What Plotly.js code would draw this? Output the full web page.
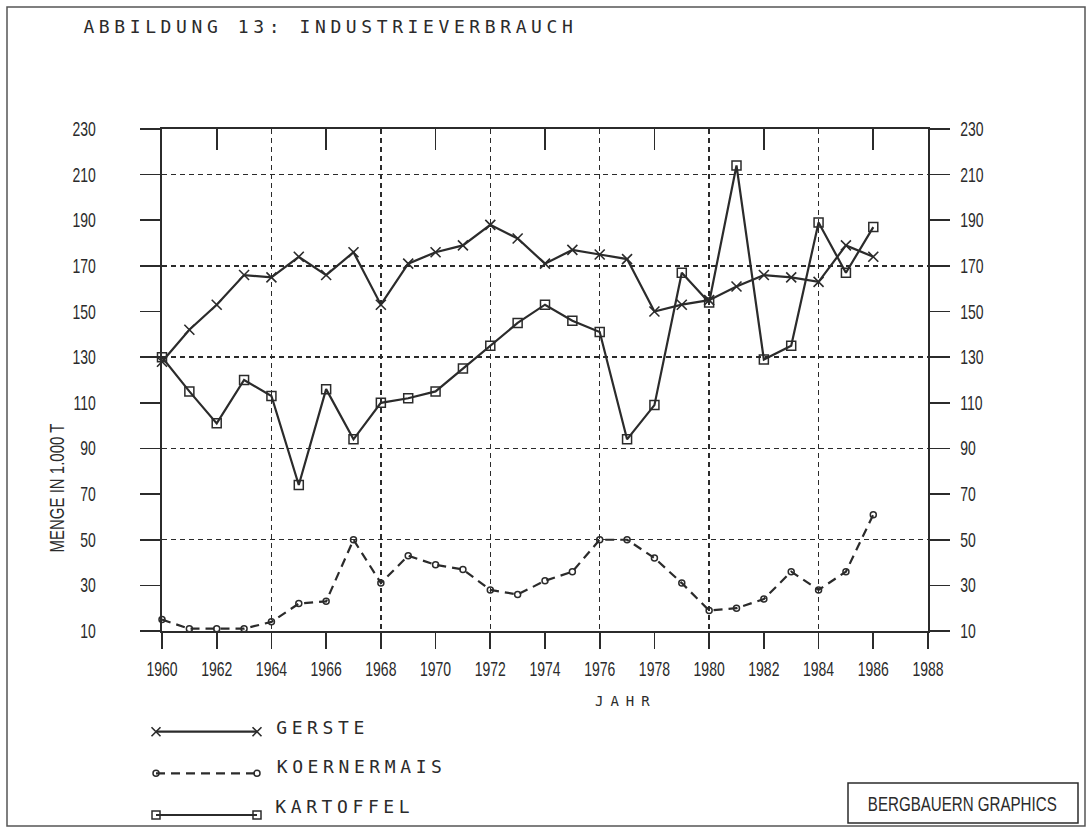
<!DOCTYPE html>
<html>
<head>
<meta charset="utf-8">
<script src="https://cdn.plot.ly/plotly-3.0.1.min.js"></script>
<style>
  html, body { margin: 0; padding: 0; background: #fff; }
  #chart { width: 1091px; height: 827px; }
</style>
</head>
<body>
<div id="chart"></div>
<script>
// ---- data ----
const years = [1960,1961,1962,1963,1964,1965,1966,1967,1968,1969,1970,1971,1972,1973,
               1974,1975,1976,1977,1978,1979,1980,1981,1982,1983,1984,1985,1986];
const gerste = [128,142,153,166,165,174,166,176,153,171,176,179,188,182,
                171,177,175,173,150,153,155,161,166,165,163,179,174];
const koernermais = [15,11,11,11,14,22,23,50,31,43,39,37,28,26,
                     32,36,50,50,42,31,19,20,24,36,28,36,61];
const kartoffel = [130,115,101,120,113,74,116,94,110,112,115,125,135,145,
                   153,146,141,94,109,167,154,214,129,135,189,167,187];
const seriesNames = ["GERSTE", "KOERNERMAIS", "KARTOFFEL"];
const xGridYears = [1964,1968,1972,1976,1980,1984];
const xTopTicks = [1962,1966,1970,1974,1978,1982,1986];
const yGridVals = [50,90,130,170,210];
const titleText = "ABBILDUNG 13: INDUSTRIEVERBRAUCH";
const xTitle = "JAHR";
const yTitle = "MENGE IN 1.000 T";
const creditText = "BERGBAUERN GRAPHICS";

// ---- styling ----
const INK = "#2b2b2b";
const NARROW = "Liberation Sans, Arial, sans-serif";
const PLOTTER = "DejaVu Sans Mono, Liberation Mono, monospace";
const W = 1091, H = 827;
const px = v => v / W;          // pixel x -> paper
const py = v => 1 - v / H;      // pixel y -> paper

const xDom = [px(162), px(928)];
const yDom = [py(631), py(129)];

const tickFont = { family: NARROW, size: 20, color: INK };
const GRID = { showgrid: true, gridcolor: INK, gridwidth: 1.5, griddash: "5px,4px" };

const traces = [
  { x: years, y: gerste, name: seriesNames[0], type: "scatter", mode: "lines+markers",
    xaxis: "x", yaxis: "y", cliponaxis: false,
    line: { color: INK, width: 2.2 },
    marker: { symbol: "x-thin-open", size: 10, color: INK, line: { color: INK, width: 1.6 } } },
  { x: years, y: koernermais, name: seriesNames[1], type: "scatter", mode: "lines+markers",
    xaxis: "x", yaxis: "y", cliponaxis: false,
    line: { color: INK, width: 2.2, dash: "9px,6px" },
    marker: { symbol: "circle-open", size: 6, color: INK, line: { color: INK, width: 1.5 } } },
  { x: years, y: kartoffel, name: seriesNames[2], type: "scatter", mode: "lines+markers",
    xaxis: "x", yaxis: "y", cliponaxis: false,
    line: { color: INK, width: 2.2 },
    marker: { symbol: "square-open", size: 9, color: INK, line: { color: INK, width: 1.5 } } },
  // empty traces so the overlay axes (top/right frame, grids) get drawn
  { x: [], y: [], xaxis: "x2", yaxis: "y", mode: "lines", hoverinfo: "skip" },
  { x: [], y: [], xaxis: "x3", yaxis: "y", mode: "lines", hoverinfo: "skip" },
  { x: [], y: [], xaxis: "x", yaxis: "y2", mode: "lines", hoverinfo: "skip" },
  { x: [], y: [], xaxis: "x", yaxis: "y3", mode: "lines", hoverinfo: "skip" },
  // legend samples (own small axes below the plot)
  { x: [0,1], y: [0,0], xaxis: "x4", yaxis: "y4", mode: "lines+markers", hoverinfo: "skip", cliponaxis: false,
    line: { color: INK, width: 2.2 },
    marker: { symbol: "x-thin-open", size: 9, color: INK, line: { color: INK, width: 1.6 } } },
  { x: [0,1], y: [1,1], xaxis: "x4", yaxis: "y4", mode: "lines+markers", hoverinfo: "skip", cliponaxis: false,
    line: { color: INK, width: 2.2, dash: "9px,6px" },
    marker: { symbol: "circle-open", size: 6, color: INK, line: { color: INK, width: 1.5 } } },
  { x: [0,1], y: [2,2], xaxis: "x4", yaxis: "y4", mode: "lines+markers", hoverinfo: "skip", cliponaxis: false,
    line: { color: INK, width: 2.2 },
    marker: { symbol: "square-open", size: 8, color: INK, line: { color: INK, width: 1.5 } } }
];

const layout = {
  width: W, height: H, autosize: false,
  margin: { l: 0, r: 0, t: 0, b: 0, pad: 0 },
  paper_bgcolor: "#fff", plot_bgcolor: "rgba(0,0,0,0)",
  showlegend: false,
  xaxis: { domain: xDom, anchor: "y", range: [1960, 1988], tick0: 1960, dtick: 2,
           ticks: "outside", ticklen: 16, tickwidth: 1.6, tickcolor: INK,
           showline: true, linewidth: 2.2, linecolor: INK, showgrid: false, zeroline: false,
           tickfont: tickFont, ticklabelstandoff: 3 },
  xaxis2: { overlaying: "x", anchor: "y", side: "top", range: [1960, 1988],
            tickmode: "array", tickvals: xTopTicks, ticks: "inside", ticklen: 21,
            tickwidth: 1.6, tickcolor: INK, showticklabels: false,
            showline: true, linewidth: 2.2, linecolor: INK, showgrid: false, zeroline: false },
  xaxis3: Object.assign({ overlaying: "x", anchor: "y", side: "bottom", range: [1960, 1988],
            tickmode: "array", tickvals: xGridYears, ticks: "", showticklabels: false,
            showline: false, zeroline: false }, GRID),
  yaxis: { domain: yDom, anchor: "x", range: [10, 230], tick0: 10, dtick: 20,
           ticks: "outside", ticklen: 20, tickwidth: 1.6, tickcolor: INK,
           showline: true, linewidth: 2.2, linecolor: INK, showgrid: false, zeroline: false,
           tickfont: tickFont, ticklabelstandoff: 40 },
  yaxis2: { overlaying: "y", anchor: "x", side: "right", range: [10, 230], tick0: 10, dtick: 20,
            ticks: "outside", ticklen: 20, tickwidth: 1.6, tickcolor: INK,
            showline: true, linewidth: 2.2, linecolor: INK, showgrid: false, zeroline: false,
            tickfont: tickFont, ticklabelstandoff: 6 },
  yaxis3: Object.assign({ overlaying: "y", anchor: "x", side: "left", range: [10, 230],
            tickmode: "array", tickvals: yGridVals, ticks: "", showticklabels: false,
            showline: false, zeroline: false }, GRID),
  xaxis4: { domain: [px(156), px(257)], anchor: "y4", range: [0, 1], visible: false, fixedrange: true },
  yaxis4: { domain: [py(825.4), py(710.9)], anchor: "x4", range: [2.25, -0.5], visible: false, fixedrange: true },
  shapes: [
    { type: "rect", xref: "paper", yref: "paper", x0: px(7), x1: px(1085), y0: py(826), y1: py(7),
      line: { color: "#555", width: 1.5 } },
    { type: "rect", xref: "paper", yref: "paper", x0: px(848), x1: px(1078), y0: py(823), y1: py(783),
      line: { color: INK, width: 1.5 } }
  ],
  annotations: [
    { text: titleText, xref: "paper", yref: "paper", x: px(330), y: py(26),
      xanchor: "center", yanchor: "middle", showarrow: false,
      font: { family: PLOTTER, size: 18, color: INK } },
    { text: xTitle, xref: "paper", yref: "paper", x: px(626), y: py(701),
      xanchor: "center", yanchor: "middle", showarrow: false,
      font: { family: PLOTTER, size: 14, color: INK } },
    { text: yTitle, xref: "paper", yref: "paper", x: px(57), y: py(488), textangle: -90,
      xanchor: "center", yanchor: "middle", showarrow: false,
      font: { family: NARROW, size: 20, color: INK } },
    { text: seriesNames[0], xref: "paper", yref: "paper", x: px(322), y: py(727),
      xanchor: "center", yanchor: "middle", showarrow: false,
      font: { family: PLOTTER, size: 18, color: INK } },
    { text: seriesNames[1], xref: "paper", yref: "paper", x: px(361), y: py(766),
      xanchor: "center", yanchor: "middle", showarrow: false,
      font: { family: PLOTTER, size: 18, color: INK } },
    { text: seriesNames[2], xref: "paper", yref: "paper", x: px(345), y: py(806),
      xanchor: "center", yanchor: "middle", showarrow: false,
      font: { family: PLOTTER, size: 18, color: INK } },
    { text: creditText, xref: "paper", yref: "paper", x: px(962), y: py(803),
      xanchor: "center", yanchor: "middle", showarrow: false,
      font: { family: NARROW, size: 21, color: INK } }
  ]
};

const spacing = {};
spacing[titleText] = "4.6px";
spacing[xTitle] = "7px";
spacing[seriesNames[0]] = "4.6px";
spacing[seriesNames[1]] = "4.6px";
spacing[seriesNames[2]] = "4.6px";

// horizontally condense a text element around a chosen anchor (keeps it real text)
function squeeze(t, sx, mode) {
  const b = t.getBBox();
  const cx = mode === "start" ? b.x : mode === "end" ? b.x + b.width : b.x + b.width / 2;
  const old = t.getAttribute("transform") || "";
  t.setAttribute("transform", old + " translate(" + cx + ",0) scale(" + sx + ",1) translate(" + (-cx) + ",0)");
}

Plotly.newPlot("chart", traces, layout, { staticPlot: true, displayModeBar: false }).then(gd => {
  gd.querySelectorAll(".annotation-text").forEach(t => {
    const s = spacing[t.textContent];
    if (s) t.style.letterSpacing = s;
    if (t.textContent === creditText) squeeze(t, 0.72, "middle");
    if (t.textContent === yTitle) squeeze(t, 0.75, "middle");
  });
  gd.querySelectorAll("g.xtick text").forEach(t => squeeze(t, 0.7, "middle"));
  gd.querySelectorAll("g.ytick text").forEach(t => squeeze(t, 0.7, "end"));
  gd.querySelectorAll("g.y2tick text").forEach(t => squeeze(t, 0.7, "start"));
});
</script>
</body>
</html>
